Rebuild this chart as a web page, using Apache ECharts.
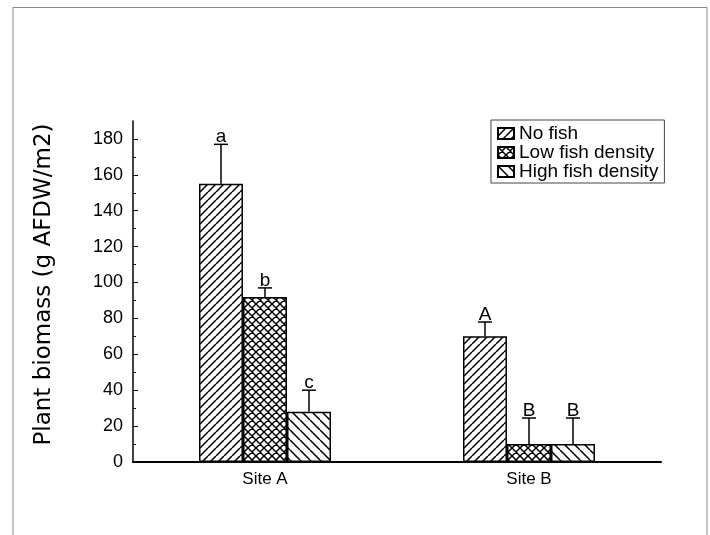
<!DOCTYPE html>
<html><head><meta charset="utf-8">
<script src="https://cdn.jsdelivr.net/npm/echarts@6/dist/echarts.min.js"></script>
<style>html,body{margin:0;padding:0;background:#fff}#c{width:710px;height:535px}</style>
</head><body><div id="c"></div>
<script>
// ---- data ----
const categories = ['Site A', 'Site B'];
const seriesNames = ['No fish', 'Low fish density', 'High fish density'];
const noFish = [155, 70];
const lowFish = [92, 10];
const highFish = [28, 10];
const noFishErr = [22, 8];
const lowFishErr = [5, 14.5];
const highFishErr = [12, 14.5];
const noFishLetters = ['a', 'A'];
const lowFishLetters = ['b', 'B'];
const highFishLetters = ['c', 'B'];
const majorTicks = [0, 20, 40, 60, 80, 100, 120, 140, 160, 180];
const minorTicks = [10, 30, 50, 70, 90, 110, 130, 150, 170];

// ---- patterns ----
function pattern(type, s) {
  const c = document.createElement('canvas');
  c.width = s; c.height = s;
  const g = c.getContext('2d');
  g.fillStyle = '#fff'; g.fillRect(0, 0, s, s);
  g.strokeStyle = '#000'; g.lineWidth = 1.5;
  g.beginPath();
  if (type === 'fwd' || type === 'cross') {
    for (let k = -1; k <= 1; k++) { g.moveTo(k * s, s); g.lineTo(k * s + s, 0); }
  }
  if (type === 'back' || type === 'cross') {
    for (let k = -1; k <= 1; k++) { g.moveTo(k * s, 0); g.lineTo(k * s + s, s); }
  }
  g.stroke();
  return { image: c, repeat: 'repeat' };
}
const fills = [pattern('fwd', 8), pattern('cross', 8), pattern('back', 10)];
const values = [noFish, lowFish, highFish];
const errs = [noFishErr, lowFishErr, highFishErr];
const letters = [noFishLetters, lowFishLetters, highFishLetters];

const barSeries = seriesNames.map((n, k) => ({
  name: n, type: 'bar', data: values[k],
  barGap: '0%', barCategoryGap: '50%',
  itemStyle: { color: fills[k], borderColor: '#000', borderWidth: 1.5 },
  z: 3
}));

const errSeries = seriesNames.map((n, k) => ({
  type: 'custom',
  data: categories.map((c, i) => [i, values[k][i], values[k][i] + errs[k][i]]),
  encode: { x: 0, y: [1, 2] },
  z: 2,
  renderItem(params, api) {
    const i = api.value(0);
    const band = api.size([1, 0])[0];
    const bw = band * 0.5 / 3;
    const off = (k - 1) * bw;
    const p0 = api.coord([i, api.value(1)]);
    const p1 = api.coord([i, api.value(2)]);
    const x = p0[0] + off;
    return {
      type: 'group', children: [
        { type: 'line', shape: { x1: x, y1: p0[1], x2: x, y2: p1[1] }, style: { stroke: '#000', lineWidth: 1.5 } },
        { type: 'line', shape: { x1: x - 7, y1: p1[1], x2: x + 7, y2: p1[1] }, style: { stroke: '#000', lineWidth: 1.5 } },
        { type: 'text', x: x, y: p1[1] + 2, style: { text: letters[k][params.dataIndex], align: 'center', verticalAlign: 'bottom', fontSize: 19, fontFamily: 'Liberation Sans', fill: '#000' } }
      ]
    };
  }
}));

const chart = echarts.init(document.getElementById('c'), null, { renderer: 'canvas' });
chart.setOption({
  animation: false,
  backgroundColor: '#fff',
  grid: { left: 133, right: 49, top: 121, bottom: 73 },
  legend: {
    data: seriesNames, orient: 'vertical', left: 491, top: 120,
    itemWidth: 16, itemHeight: 11, itemGap: 0,
    padding: [4, 6, 2, 6],
    borderColor: '#444', borderWidth: 1,
    icon: 'rect',
    textStyle: { fontSize: 19, fontFamily: 'Liberation Sans', color: '#000', lineHeight: 19 }
  },
  xAxis: {
    type: 'category', data: categories,
    axisLine: { lineStyle: { color: '#000', width: 2 } },
    axisTick: { show: false },
    axisLabel: { color: '#000', fontSize: 17, fontFamily: 'Liberation Sans', margin: 9 }
  },
  yAxis: [{
    type: 'value', min: 0, max: 190,
    name: 'Plant biomass (g AFDW/m2)', nameLocation: 'middle', nameGap: 77, nameRotate: 90,
    nameTextStyle: { fontSize: 23, fontFamily: 'DejaVu Sans', color: '#000', padding: [0, 0, 0, 14] },
    axisLine: { show: true, lineStyle: { color: '#000', width: 1.5 } },
    axisTick: { show: true, inside: true, length: 5, customValues: majorTicks, lineStyle: { color: '#000' } },
    axisLabel: { customValues: majorTicks, color: '#000', fontSize: 18, fontFamily: 'Liberation Sans', margin: 10 },
    splitLine: { show: false }
  }, {
    type: 'value', min: 0, max: 190, position: 'left', offset: 0,
    axisLine: { show: false },
    axisTick: { show: true, inside: true, length: 3, customValues: minorTicks, lineStyle: { color: '#000' } },
    axisLabel: { show: false },
    splitLine: { show: false }
  }],
  graphic: [
    { type: 'polyline', shape: { points: [[13, 535], [13, 7.5], [707, 7.5], [707, 535]] }, style: { stroke: '#888', lineWidth: 1, fill: null } }
  ],
  series: [...barSeries, ...errSeries]
});
</script>
</body></html>
